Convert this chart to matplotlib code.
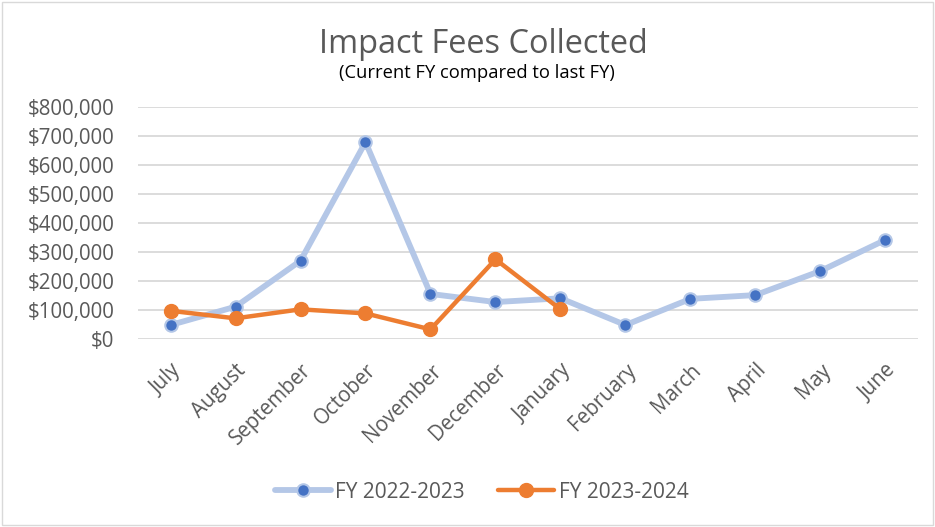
import matplotlib
matplotlib.use("Agg")
import matplotlib.pyplot as plt
from matplotlib.ticker import FuncFormatter, MultipleLocator
from matplotlib.patches import Rectangle

months = ["July", "August", "September", "October", "November", "December",
          "January", "February", "March", "April", "May", "June"]
fy_2022_2023 = [49000, 112000, 270000, 678000, 156000, 128000,
                141000, 49000, 139000, 152000, 235000, 342000]
fy_2023_2024 = [98000, 72000, 103000, 89000, 34000, 275000, 103000]
series_names = ["FY 2022-2023", "FY 2023-2024"]

plt.rcParams['font.family'] = ['Open Sans', 'DejaVu Sans']
TXT = '#595959'

fig = plt.figure(figsize=(9.35, 5.27), dpi=100)
fig.patches.append(Rectangle((0.002, 0.003), 0.996, 0.994, transform=fig.transFigure,
                             fill=False, edgecolor='#D9D9D9', linewidth=1.0))
ax = fig.add_axes([0.1476, 0.3562, 0.8342, 0.4414])

x1 = list(range(len(fy_2022_2023)))
x2 = list(range(len(fy_2023_2024)))
ax.plot(x1, fy_2022_2023, color='#B4C7E7', lw=4.2, marker='o', markersize=9,
        markerfacecolor='#4472C4', markeredgecolor='#B4C7E7', markeredgewidth=1.5,
        label=series_names[0], zorder=3, solid_capstyle='round')
ax.plot(x2, fy_2023_2024, color='#ED7D31', lw=3.2, marker='o', markersize=10,
        markerfacecolor='#ED7D31', markeredgecolor='#ED7D31',
        label=series_names[1], zorder=4, solid_capstyle='round')

ax.set_xlim(-0.5, len(months) - 0.5)
ax.set_ylim(0, 800000)
ax.yaxis.set_major_locator(MultipleLocator(100000))
ax.yaxis.set_major_formatter(FuncFormatter(lambda v, p: f"${v:,.0f}"))
ax.grid(axis='y', color='#D9D9D9', lw=1.3)
ax.set_axisbelow(True)
for s in ax.spines.values():
    s.set_visible(False)
ax.tick_params(axis='both', length=0, colors=TXT)
ax.tick_params(axis='y', pad=17, labelsize=14.8)
ax.tick_params(axis='x', pad=15, labelsize=14.8)
ax.set_xticks(x1)
ax.set_xticklabels(months, rotation=45, ha='right', rotation_mode='anchor')

fig.text(0.517, 0.915, "Impact Fees Collected", ha='center', va='center',
         fontsize=23.4, color=TXT)
fig.text(0.510, 0.862, "(Current FY compared to last FY)", ha='center', va='center',
         fontsize=13.2, color='black')

ax.legend(loc='center', bbox_to_anchor=(0.515, 0.066), bbox_transform=fig.transFigure,
          ncol=2, frameon=False, fontsize=15, labelcolor=TXT, handlelength=2.7,
          handletextpad=0.2, columnspacing=1.6)

fig.savefig("out.png", dpi=100)
